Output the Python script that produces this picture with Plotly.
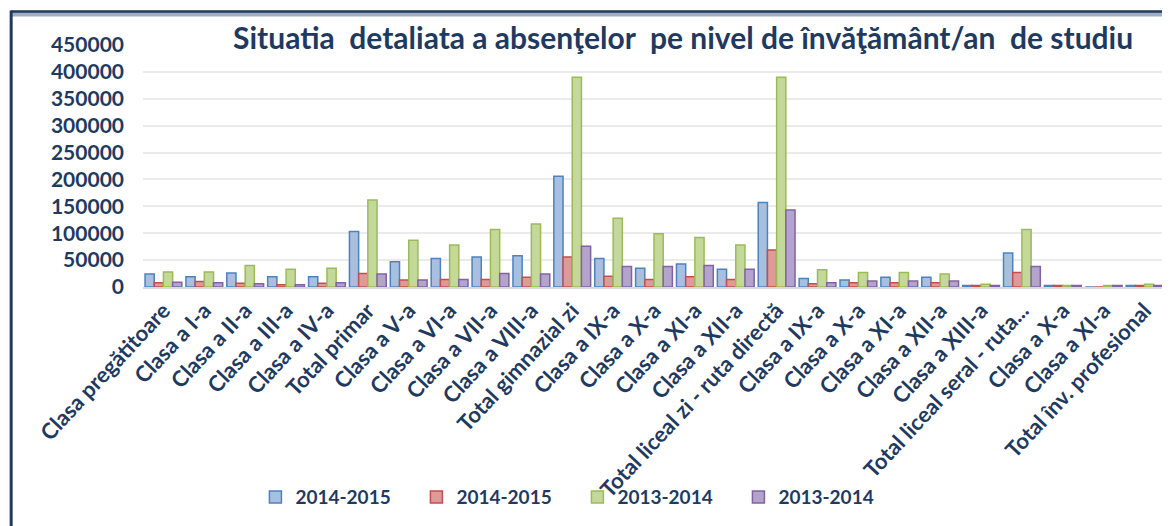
import plotly.graph_objects as go

categories = [
    "Clasa pregătitoare", "Clasa a I-a", "Clasa a II-a", "Clasa a III-a", "Clasa a IV-a",
    "Total primar", "Clasa a V-a", "Clasa a VI-a", "Clasa a VII-a", "Clasa a VIII-a",
    "Total gimnazial zi", "Clasa a IX-a", "Clasa a X-a", "Clasa a XI-a", "Clasa a XII-a",
    "Total liceal zi - ruta directă", "Clasa a IX-a", "Clasa a X-a", "Clasa a XI-a",
    "Clasa a XII-a", "Clasa a XIII-a", "Total liceal seral - ruta...", "Clasa a X-a",
    "Clasa a XI-a", "Total înv. profesional",
]

blue_2014_2015 = [24000, 19000, 26000, 19000, 19000, 103000, 47000, 53000, 56000, 58000,
                  206000, 53000, 35000, 43000, 33000, 157000, 16000, 13000, 18000, 18000,
                  3000, 63000, 3000, 0, 3000]
red_2014_2015 = [8000, 10000, 7000, 4000, 7000, 25000, 13000, 14000, 14000, 18000,
                 56000, 20000, 14000, 19000, 14000, 69000, 6000, 8000, 8000, 8000,
                 3000, 27000, 3000, 0, 3000]
green_2013_2014 = [28000, 28000, 40000, 33000, 35000, 162000, 87000, 78000, 107000, 117000,
                   390000, 128000, 99000, 92000, 78000, 390000, 32000, 27000, 27000, 24000,
                   5000, 107000, 3000, 3000, 5000]
purple_2013_2014 = [9000, 8000, 6000, 4000, 8000, 24000, 13000, 14000, 25000, 24000,
                    76000, 38000, 38000, 40000, 33000, 143000, 8000, 11000, 11000, 11000,
                    3000, 38000, 3000, 3000, 3000]

series_names = ["2014-2015", "2014-2015", "2013-2014", "2013-2014"]
series_values = [blue_2014_2015, red_2014_2015, green_2013_2014, purple_2013_2014]
fills = ["#A7C0E0", "#DE9A98", "#C4D89A", "#B4A3CB"]
lines = ["#4F81BD", "#C0504D", "#9BBB59", "#8064A2"]

x = list(range(len(categories)))
navy = "#1F3A5F"

fig = go.Figure()
for name, vals, fc, lc in zip(series_names, series_values, fills, lines):
    fig.add_trace(go.Bar(
        x=x, y=vals, name=name,
        marker=dict(color=fc, line=dict(color=lc, width=1.5)),
    ))

fig.update_layout(
    width=1162, height=518,
    paper_bgcolor="white", plot_bgcolor="white",
    margin=dict(l=135, r=5, t=37, b=239),
    barmode="group", bargap=0.1, bargroupgap=0,
    font=dict(family="Lato", color=navy),
    title=dict(
        text="Situatia  detaliata a absenţelor  pe nivel de învăţământ/an  de studiu",
        x=0.581, xanchor="center", y=0.942, yanchor="middle",
        font=dict(family="Lato", size=30, color=navy, weight="bold"),
    ),
    xaxis=dict(
        tickmode="array", tickvals=x, ticktext=categories,
        tickangle=-47, range=[-0.5, len(categories) - 0.5],
        tickfont=dict(family="Lato", size=22, color=navy, weight="bold"),
        showgrid=False, showline=True, linecolor="#D9D9D9", linewidth=2,
        ticks="", automargin=False,
    ),
    yaxis=dict(
        range=[0, 450000], dtick=50000, tickformat="d",
        tickfont=dict(family="Lato", size=21, color=navy, weight="bold"),
        showgrid=True, gridcolor="#EBEBEB", gridwidth=2,
        zeroline=False, showline=False, ticks="", ticklabelstandoff=18,
        automargin=False,
    ),
    legend=dict(
        orientation="h", x=0.11, xanchor="left", y=-0.868, yanchor="middle",
        font=dict(family="Lato", size=19, color=navy, weight="bold"),
        entrywidth=116, entrywidthmode="pixels", bgcolor="rgba(0,0,0,0)",
    ),
    shapes=[
        dict(type="line", xref="paper", yref="paper", x0=-0.129, x1=1.1, y0=1.128, y1=1.128,
             line=dict(color="#A0AEC0", width=5)),
        dict(type="line", xref="paper", yref="paper", x0=-0.129, x1=1.1, y0=1.138, y1=1.138,
             line=dict(color=navy, width=2.5)),
        dict(type="line", xref="paper", yref="paper", x0=-0.129, x1=-0.129, y0=-1.2, y1=1.143,
             line=dict(color=navy, width=3)),
    ],
)

fig.write_html("out.html")
